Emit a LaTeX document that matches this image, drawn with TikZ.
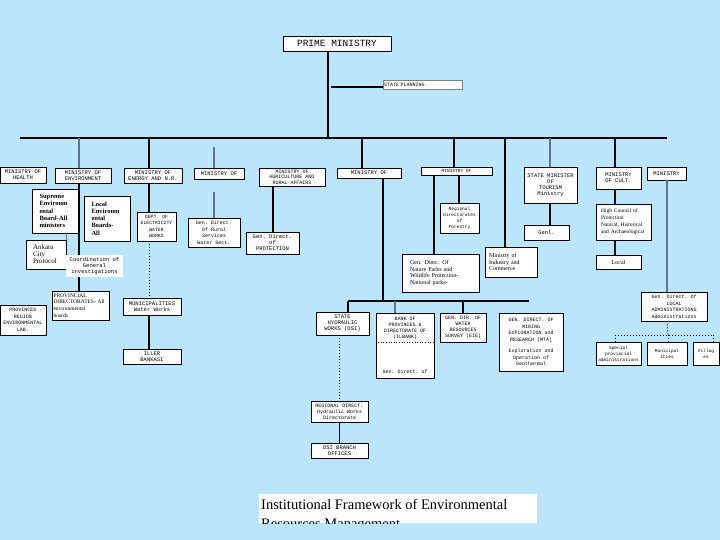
\documentclass[tikz,border=0pt]{standalone}
\usepackage{fontspec}
\setmainfont{Liberation Serif}
\setmonofont{Liberation Mono}
\definecolor{slidebg}{RGB}{186,229,251}
\definecolor{slate}{RGB}{96,116,134}
\tikzset{
  box/.style={draw, fill=white, line width=0.8pt, inner sep=1pt, align=center, font=\ttfamily\fontsize{5.5}{6}\selectfont},
  sz/.style 2 args={minimum width=#1pt, minimum height=#2pt},
  serif/.style={font=\rmfamily\fontsize{6}{6.8}\selectfont},
  boldtext/.style={font=\rmfamily\bfseries\fontsize{6.5}{7.2}\selectfont},
  tiny/.style={font=\ttfamily\fontsize{5}{6.5}\selectfont},
  link/.style={line width=1.1pt},
  faint/.style={line width=1.1pt, slate},
  dots/.style={line width=1pt, dotted},
}
\begin{document}
\begin{tikzpicture}[x=1pt, y=-1pt]
\fill[slidebg] (0,0) rectangle (720,540);
\useasboundingbox (0,0) rectangle (720,540);

% top
\node[box, sz={108}{15}, font=\ttfamily\fontsize{9.5}{10}\selectfont] (prime) at (337,43.5) {PRIME MINISTRY};
\node[box, draw=gray, line width=0.4pt, text width=77pt, align=left, minimum height=9pt, font=\ttfamily\fontsize{5}{5.5}\selectfont] (planning) at (422.5,84.5) {STATE PLANNING};

% ministries
\node[box, sz={46}{16}] (health) at (23,175) {MINISTRY OF\\HEALTH};
\node[box, sz={56}{15}] (env) at (83,175.5) {MINISTRY OF\\ENVIRONMENT};
\node[box, sz={58}{15}] (energy) at (153,175.5) {MINISTRY OF\\ENERGY AND N.R.};
\node[box, sz={50}{11}] (rural) at (219,173.5) {MINISTRY OF};
\node[box, sz={66}{18}, font=\ttfamily\fontsize{5}{5.5}\selectfont] (agri) at (292,177) {MINISTRY OF\\AGRICULTURE AND\\RURAL AFFAIRS};
\node[box, sz={64}{10}] (public) at (369,173) {MINISTRY OF};
\node[box, sz={71}{8}, font=\ttfamily\fontsize{4.5}{5}\selectfont] (forestry) at (456.5,171) {MINISTRY OF};
\node[box, sz={53}{36}] (tourism) at (550.5,185) {STATE MINISTER\\OF\\TOURISM\\Ministry};
\node[box, sz={45}{22}] (culture) at (618.5,178) {MINISTRY\\OF CULT.};
\node[box, sz={39}{13}] (interior) at (666.5,173.5) {MINISTRY};

% environment
\node[box, sz={47}{44}, text width=32pt, align=left, inner xsep=7.5pt, boldtext] (supreme) at (55.5,211) {Supreme\\Environm\\ental\\Board-All\\ministers};
\node[box, sz={46}{45}, text width=31pt, align=left, inner xsep=7.5pt, boldtext] (localboard) at (107,218.5) {Local\\Environm\\ental\\Boards-\\All};
\node[box, sz={40}{29}, text width=26pt, align=left, inner xsep=7pt, font=\rmfamily\fontsize{7}{7}\selectfont] (ankara) at (46,254.5) {Ankara\\City\\Protocol};
\node[box, sz={57}{29}, text width=54pt, align=left, inner xsep=1.5pt, font=\rmfamily\fontsize{5.5}{6.8}\selectfont] (provdir) at (80.5,305.5) {PROVINCIAL\\DIRECTORATES- All\\environmental\\boards};
\node[box, sz={46}{30}, tiny] (provlab) at (23,320) {PROVINCES\\REGION\\ENVIRONMENTAL\\LAB.};

% energy
\node[box, sz={39}{29}, font=\ttfamily\fontsize{4.8}{6.5}\selectfont] (dsiwater) at (156.5,226.5) {DEPT. OF\\ELECTRICITY\\WATER\\WORKS};
\node[box, sz={58}{17}] (municip) at (152,306.5) {MUNICIPALITIES\\Water Works};
\node[box, sz={58}{15}] (ilbank) at (152,356.5) {ILLER\\BANKASI};

% rural, agriculture
\node[box, sz={52}{29}, tiny] (ruralserv) at (214,232.5) {Gen. Direct.\\Of Rural\\Services\\Water Sect.};
\node[box, sz={53}{22}] (protect) at (272.5,243) {Gen. Direct.\\of\\PROTECTION};

% public works
\node[box, sz={53}{23}] (dsi) at (342.5,323.5) {STATE\\HYDRAULIC\\WORKS (DSI)};
\node[box, sz={58}{65}, font=\ttfamily\fontsize{5}{6}\selectfont] (bank) at (405,345.5) {BANK OF\\PROVINCES \&\\DIRECTORATE OF\\(ILBANK)\\[29pt]Gen. Direct. of};
\node[box, sz={46}{29}, font=\ttfamily\fontsize{5}{6}\selectfont] (eie) at (463,327.5) {GEN. DIR. OF\\WATER\\RESOURCES\\SURVEY (EIE)};
\node[box, sz={64}{58}, tiny] (mta) at (531,342) {GEN. DIRECT. OF\\MINING\\EXPLORATION and\\RESEARCH (MTA)\\[5pt]Exploration and\\Operation of\\Geothermal};
\node[box, sz={57}{21}, font=\ttfamily\fontsize{5}{6}\selectfont] (regdsi) at (339.5,411.5) {REGIONAL DIRECT.\\Hydraulic Works\\Directorate};
\node[box, sz={57}{15}] (dsibranch) at (339.5,450.5) {DSI BRANCH\\OFFICES};

% forestry, industry
\node[box, sz={77}{38}, text width=61pt, align=left, inner xsep=8pt, serif] (forestgd) at (440.5,273) {Gen. Direc. Of\\Nature Parks and\\Wildlife Protection-\\National parks-};
\node[box, sz={39}{30}, font=\ttfamily\fontsize{4.5}{6}\selectfont] (regforest) at (459.5,218) {Regional\\Directorates\\of\\Forestry};
\node[box, sz={52}{30}, text width=44pt, align=left, inner xsep=4pt, serif] (industry) at (511,262) {Ministry of\\Industry and\\Commerce};

% tourism, culture
\node[box, sz={45}{15}] (vest) at (546.5,232.5) {Genl.};
\node[box, sz={55}{36}, text width=45pt, align=left, inner xsep=5pt, font=\rmfamily\fontsize{5.5}{7}\selectfont] (highcouncil) at (623.5,222) {High Council of\\Protection\\Natural, Historical\\and Archaeological};
\node[box, sz={45}{14}, serif] (localcult) at (618.5,262) {Local};

% interior
\node[box, sz={66}{29}, tiny] (localadmin) at (674,306.5) {Gen. Direct. Of\\LOCAL\\ADMINISTRATIONS\\Administrations};
\node[box, sz={45}{23}, font=\ttfamily\fontsize{4.5}{6}\selectfont] (specadmin) at (618.5,353.5) {Special\\provincial\\administrations};
\node[box, sz={40}{23}, font=\ttfamily\fontsize{4.5}{6}\selectfont] (municipal) at (667,353.5) {Municipal\\ities};
\node[box, sz={26}{23}, font=\ttfamily\fontsize{4.5}{6}\selectfont] (villages) at (706,353.5) {Villag\\es};

% buses
\coordinate (trunk) at (328,138);
\coordinate (sp) at (331,87);
\coordinate (busL) at (20,138);
\coordinate (busR) at (667,138);
\coordinate (d-env) at (79,138);
\coordinate (d-energy) at (149,138);
\coordinate (d-rural) at (214,147);
\coordinate (r-gap) at (214,192);
\coordinate (d-agri) at (273,186);
\coordinate (d-public) at (362,138);
\coordinate (pw-trunk) at (383,301);
\coordinate (pwL) at (348,301);
\coordinate (pwR) at (529,301);
\coordinate (pw-bank) at (395,301);
\coordinate (pw-eie) at (463,301);
\coordinate (bank-split) at (405,342);
\coordinate (d-forestry) at (454,138);
\coordinate (f-left) at (434,175);
\coordinate (f-right) at (459,175);
\coordinate (d-industry) at (505,138);
\coordinate (d-tourism) at (550,138);
\coordinate (d-culture) at (615,138);
\coordinate (d-interior) at (667,180);
\coordinate (la-L) at (615,335);
\coordinate (la-M) at (668,335);
\coordinate (la-R) at (713,335);

\draw[link] (trunk |- prime.south) -- (trunk);
\draw[link] (sp) -- (sp -| planning.west);
\draw[link] (busL) -- (busR);

\draw[faint] (d-env) -- (d-env |- env.north);
\draw[link] (d-env |- env.south) -- (d-env |- provdir.north);
\draw[faint] (supreme.south -| ankara.north east) -- (ankara.north east);

\draw[link] (d-energy) -- (d-energy |- energy.north);
\draw[link] (d-energy |- energy.south) -- (d-energy |- dsiwater.north);
\draw[dots] (d-energy |- dsiwater.south) -- (d-energy |- municip.north);
\draw[link] (d-energy |- municip.south) -- (d-energy |- ilbank.north);

\draw[faint] (d-rural) -- (d-rural |- rural.north);
\draw[faint] (r-gap) -- (r-gap |- ruralserv.north);
\draw[link] (d-agri |- agri.south) -- (d-agri |- protect.north);

\draw[link] (d-public) -- (d-public |- public.north);
\draw[link] (pw-trunk |- public.south) -- (pw-trunk);
\draw[link] (pwL) -- (pwR);
\draw[link] (pwL) -- (pwL |- dsi.north);
\draw[faint] (pw-bank) -- (pw-bank |- bank.north);
\draw[link] (pw-eie) -- (pw-eie |- eie.north);
\draw[dotted, line width=0.6pt] (bank.west |- bank-split) -- (bank.east |- bank-split);
\draw[dots, line width=1.4pt] (regdsi.north |- dsi.south) -- (regdsi.north);
\draw[link] (regdsi.south) -- (dsibranch.north);

\draw[link] (d-forestry) -- (d-forestry |- forestry.north);
\draw[link] (f-left) -- (f-left |- forestgd.north);
\draw[link] (f-right) -- (f-right |- regforest.north);
\draw[link] (d-industry) -- (d-industry |- industry.north);

\draw[faint] (d-tourism) -- (d-tourism |- tourism.north);
\draw[link] (d-tourism |- tourism.south) -- (d-tourism |- vest.north);
\draw[link] (d-culture) -- (d-culture |- culture.north);
\draw[link] (d-culture |- culture.south) -- (d-culture |- highcouncil.north);
\draw[link] (d-culture |- highcouncil.south) -- (d-culture |- localcult.north);

\draw[faint] (d-interior) -- (d-interior |- localadmin.north);
\draw[dots] (d-interior |- localadmin.south) -- (la-M);
\draw[dots] (la-L) -- (la-R);
\draw[dots] (la-L) -- (la-L |- specadmin.north);
\draw[dots] (la-M) -- (la-M |- municipal.north);
\draw[dots] (la-R) -- (la-R |- villages.north);

% drawn over the line
\node[box, draw=none, sz={57}{22}] (coord) at (94.5,266) {Coordination of\\General\\investigations};

% title
\begin{scope}
\clip (259,494) rectangle (537,523);
\fill[white] (259,494) rectangle (537,523);
\node[anchor=north west, inner sep=2pt, align=left, font=\rmfamily\fontsize{14.5}{19}\selectfont] (title) at (259,497) {Institutional Framework of Environmental\\Resources Management};
\end{scope}
\end{tikzpicture}
\end{document}
